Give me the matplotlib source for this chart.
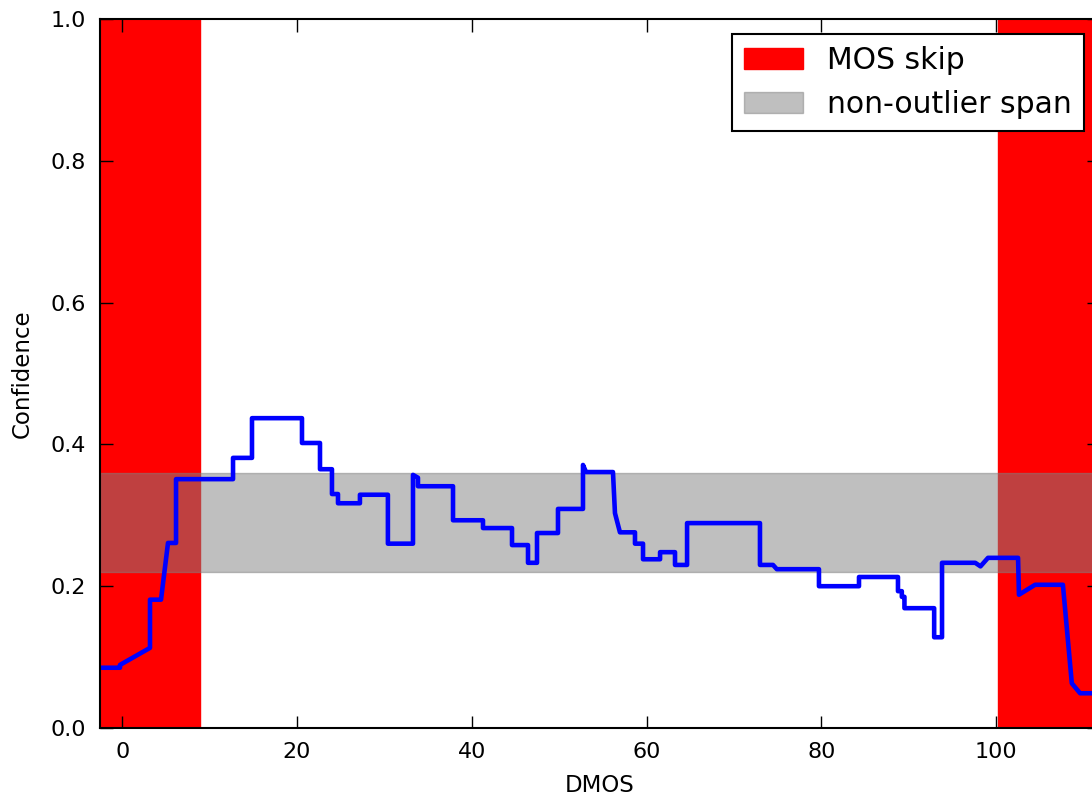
import matplotlib
matplotlib.use("Agg")
import matplotlib.pyplot as plt

# confidence curve (DMOS, confidence)
dmos = [-2.54, -0.25, -0.25, 3.18, 3.18, 4.44, 5.24, 6.16, 6.16, 12.68,
        12.68, 14.85, 14.85, 20.57, 20.57, 22.63, 22.63, 24.0, 24.0, 24.69,
        24.69, 27.2, 27.2, 30.4, 30.4, 33.27, 33.27, 33.84, 33.84, 37.85,
        37.85, 41.28, 41.28, 44.6, 44.6, 46.43, 46.43, 47.46, 47.46, 49.86,
        49.86, 52.72, 52.72, 53.07, 56.15, 56.38, 56.95, 58.67, 58.67, 59.59,
        59.59, 61.54, 61.54, 63.25, 63.25, 64.63, 64.63, 72.97, 72.97, 74.46,
        74.9, 79.72, 79.72, 84.3, 84.3, 88.76, 88.76, 89.2, 89.2, 89.5,
        89.5, 92.9, 92.9, 93.8, 93.8, 97.6, 98.2, 99.06, 102.5, 102.6,
        104.45, 107.63, 108.65, 109.6, 111.76]
conf = [0.085, 0.085, 0.089, 0.113, 0.181, 0.181, 0.261, 0.261, 0.351, 0.351,
        0.381, 0.381, 0.437, 0.437, 0.402, 0.402, 0.365, 0.365, 0.330, 0.330,
        0.317, 0.317, 0.329, 0.329, 0.260, 0.260, 0.357, 0.353, 0.341, 0.341,
        0.293, 0.293, 0.282, 0.282, 0.258, 0.258, 0.233, 0.233, 0.275, 0.275,
        0.309, 0.309, 0.371, 0.361, 0.361, 0.303, 0.276, 0.276, 0.260, 0.260,
        0.238, 0.238, 0.248, 0.248, 0.230, 0.230, 0.289, 0.289, 0.230, 0.230,
        0.224, 0.224, 0.200, 0.200, 0.213, 0.213, 0.193, 0.193, 0.185, 0.185,
        0.169, 0.169, 0.128, 0.128, 0.233, 0.233, 0.228, 0.240, 0.240, 0.188,
        0.202, 0.202, 0.063, 0.049, 0.049]

x_range = (-2.54, 111.76)
skip_low = 8.9      # MOS skip below this
skip_high = 100.2   # MOS skip above this
span_low, span_high = 0.22, 0.36

fig = plt.figure(figsize=(10.92, 7.97), dpi=100)
ax = fig.add_axes([100/1092, (797-728)/797, (1099-100)/1092, (728-19)/797])

ax.axvspan(x_range[0], skip_low, color='r', label='MOS skip')
ax.axvspan(skip_high, x_range[1], color='r')
ax.axhspan(span_low, span_high, color='gray', alpha=0.5, label='non-outlier span')
ax.plot(dmos, conf, color='b', lw=3.3)

ax.set_xlim(x_range)
ax.set_ylim(0, 1)
ax.set_xticks([0, 20, 40, 60, 80, 100])
ax.set_yticks([0.0, 0.2, 0.4, 0.6, 0.8, 1.0])
ax.set_yticklabels(['0.0', '0.2', '0.4', '0.6', '0.8', '1.0'])
ax.tick_params(direction='in', top=True, right=True, length=9, width=1,
               labelsize=16, pad=10, colors='black')
for s in ax.spines.values():
    s.set_linewidth(1.5)

ax.set_xlabel('DMOS', fontsize=16.5, labelpad=9)
ax.set_ylabel('Confidence', fontsize=16.5, labelpad=12)

leg = ax.legend(loc='upper right', fontsize=21.5, fancybox=False, framealpha=1,
                edgecolor='black', borderaxespad=0.5)
leg.get_frame().set_linewidth(1.5)

fig.savefig('out.png', dpi=100)
